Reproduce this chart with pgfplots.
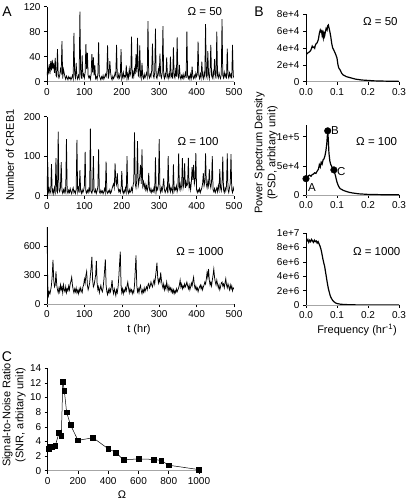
\documentclass[border=0pt]{standalone}
\usepackage{fontspec}
\setmainfont{Liberation Sans}
\usepackage{pgfplots}
\pgfplotsset{compat=1.18}
\pgfplotsset{
  myax/.style={
    scale only axis,
    axis x line*=bottom, axis y line*=left,
    axis line style={-, line width=0.6pt},
    x axis line style={gray!70},
    tick align=outside, major tick length=3pt,
    tick style={black, line width=0.5pt},
    ticklabel style={font=\fontsize{10}{12}\selectfont},
    /pgf/number format/assume math mode=true,
    /pgf/number format/1000 sep={},
    scaled ticks=false,
    minor tick num=0,
  },
  ts/.style={black, line width=0.75pt, no marks},
  psd/.style={black, line width=1.2pt, no marks},
}
\newcommand{\ann}{\fontsize{11.5}{13}\selectfont}
\newcommand{\lab}{\fontsize{11}{13}\selectfont}
\begin{document}
\begin{tikzpicture}
\useasboundingbox (0pt,0pt) rectangle (415pt,501pt);

% ---------------- Panel A top (Omega=50)
\begin{axis}[myax, at={(47pt,419.3pt)}, anchor=south west, width=187pt, height=75pt,
  xmin=0, xmax=500, ymin=0, ymax=120, ytick={0,40,80,120}, xtick={0,100,...,500}]
\addplot[ts] coordinates {
(0,10)(2,22)(4,15)(6,28)(8,12)(10,33)(12,18)(14,35)(16,20)(18,30)(20,14)(22,38)(24,10)(26,8)(28,52)(30,12)(32,6)(34,10)(36,20)(38,15)(40,65)(42,5)(44,20)(46,14)(48,8)(50,4)(52,9)(54,6)(56,3)(58,8)(60,5)(62,7)(64,3)(66,6)(68,10)(70,5)(72,78)(74,12)(76,6)(78,30)(80,8)(82,4)(84,10)(86,6)(88,112)(90,14)(92,5)(94,42)(96,8)(98,12)(100,6)(102,15)(104,60)(106,20)(108,46)(110,10)(112,6)(114,9)(116,4)(118,12)(120,44)(122,15)(124,39)(126,10)(128,26)(130,5)(132,8)(134,4)(136,12)(138,63)(140,10)(142,6)(144,3)(146,8)(148,5)(150,10)(152,4)(154,7)(156,12)(158,8)(160,14)(162,58)(164,5)(166,12)(168,33)(170,15)(172,6)(174,3)(176,9)(178,5)(180,8)(182,14)(184,10)(186,59)(188,8)(190,5)(192,12)(194,6)(196,10)(198,52)(200,4)(202,8)(204,15)(206,6)(208,10)(210,8)(212,26)(214,5)(216,12)(218,6)(220,20)(222,10)(224,14)(226,72)(228,5)(230,15)(232,8)(234,20)(236,12)(238,44)(240,15)(242,70)(244,10)(246,8)(248,58)(250,10)(252,5)(254,30)(256,8)(258,5)(260,12)(262,6)(264,10)(266,14)(268,8)(270,97)(272,10)(274,6)(276,12)(278,8)(280,18)(282,61)(284,10)(286,6)(288,14)(290,85)(292,8)(294,5)(296,12)(298,20)(300,8)(302,45)(304,10)(306,6)(308,14)(310,89)(312,10)(314,5)(316,12)(318,8)(320,39)(322,10)(324,5)(326,12)(328,8)(330,40)(332,8)(334,12)(336,5)(338,55)(340,10)(342,6)(344,18)(346,8)(348,71)(350,10)(352,6)(354,27)(356,8)(358,4)(360,10)(362,6)(364,12)(366,5)(368,9)(370,14)(372,6)(374,80)(376,10)(378,5)(380,9)(382,4)(384,12)(386,6)(388,24)(390,8)(392,5)(394,10)(396,6)(398,14)(400,8)(402,12)(404,64)(406,10)(408,5)(410,12)(412,6)(414,32)(416,10)(418,5)(420,14)(422,8)(424,92)(426,10)(428,6)(430,49)(432,12)(434,5)(436,18)(438,59)(440,10)(442,6)(444,15)(446,8)(448,36)(450,12)(452,5)(454,80)(456,10)(458,6)(460,14)(462,8)(464,5)(466,12)(468,100)(470,10)(472,6)(474,15)(476,8)(478,12)(480,5)(482,53)(484,10)(486,6)(488,14)(490,8)(492,12)(494,5)(496,59)(498,10)(500,6)
};
\node[font=\ann] at (axis cs:422,113) {Ω = 50};
\end{axis}

% ---------------- Panel A middle (Omega=100)
\begin{axis}[myax, at={(47pt,305.3pt)}, anchor=south west, width=187pt, height=79pt,
  xmin=0, xmax=500, ymin=0, ymax=200, ytick={0,100,200}, xtick={0,100,...,500}]
\addplot[ts] coordinates {
(0,15)(2,85)(4,10)(6,18)(8,6)(10,12)(12,80)(14,8)(16,15)(18,5)(20,20)(22,10)(24,95)(26,12)(28,8)(30,162)(32,15)(34,10)(36,20)(38,85)(40,12)(42,6)(44,15)(46,8)(48,18)(50,10)(52,143)(54,12)(56,6)(58,14)(60,8)(62,18)(64,10)(66,5)(68,14)(70,20)(72,8)(74,12)(76,6)(78,15)(80,141)(82,10)(84,20)(86,8)(88,65)(90,12)(92,6)(94,15)(96,8)(98,14)(100,25)(102,111)(104,10)(106,6)(108,14)(110,8)(112,18)(114,12)(116,170)(118,10)(120,6)(122,15)(124,100)(126,12)(128,8)(130,16)(132,6)(134,12)(136,22)(138,117)(140,10)(142,6)(144,14)(146,8)(148,12)(150,5)(152,10)(154,18)(156,8)(158,86)(160,10)(162,6)(164,12)(166,8)(168,15)(170,6)(172,10)(174,18)(176,25)(178,30)(180,20)(182,82)(184,35)(186,28)(188,57)(190,20)(192,10)(194,15)(196,8)(198,18)(200,62)(202,12)(204,6)(206,14)(208,8)(210,20)(212,10)(214,100)(216,12)(218,6)(220,15)(222,8)(224,12)(226,20)(228,10)(230,25)(232,35)(234,160)(236,30)(238,20)(240,40)(242,138)(244,25)(246,35)(248,50)(250,78)(252,30)(254,117)(256,25)(258,35)(260,20)(262,30)(264,15)(266,25)(268,12)(270,20)(272,58)(274,15)(276,10)(278,18)(280,8)(282,14)(284,10)(286,20)(288,12)(290,97)(292,10)(294,20)(296,15)(298,30)(300,143)(302,15)(304,8)(306,20)(308,12)(310,25)(312,44)(314,15)(316,8)(318,14)(320,20)(322,12)(324,100)(326,15)(328,25)(330,10)(332,20)(334,14)(336,8)(338,79)(340,12)(342,20)(344,15)(346,25)(348,10)(350,18)(352,107)(354,20)(356,30)(358,15)(360,25)(362,95)(364,20)(366,30)(368,82)(370,20)(372,35)(374,25)(376,30)(378,96)(380,20)(382,30)(384,15)(386,35)(388,72)(390,40)(392,78)(394,30)(396,40)(398,108)(400,15)(402,8)(404,15)(406,10)(408,18)(410,8)(412,14)(414,20)(416,30)(418,57)(420,25)(422,35)(424,107)(426,30)(428,20)(430,35)(432,25)(434,67)(436,30)(438,20)(440,35)(442,100)(444,15)(446,10)(448,18)(450,8)(452,14)(454,20)(456,10)(458,25)(460,15)(462,67)(464,20)(466,12)(468,30)(470,99)(472,15)(474,8)(476,20)(478,12)(480,25)(482,107)(484,15)(486,8)(488,20)(490,30)(492,105)(494,15)(496,8)(498,20)(500,12)
};
\node[font=\ann] at (axis cs:404,136) {Ω = 100};
\end{axis}

% ---------------- Panel A bottom (Omega=1000)
\begin{axis}[myax, at={(47pt,196.7pt)}, anchor=south west, width=187pt, height=77.3pt,
  xmin=0, xmax=500, ymin=0, ymax=800, ytick={0,300,600}, xtick={0,100,...,500}]
\addplot[ts] coordinates {
(0,850)(2,200)(4,90)(6,130)(8,110)(10,150)(12,200)(14,300)(16,460)(18,250)(20,180)(22,200)(24,340)(26,200)(28,150)(30,120)(32,170)(34,130)(36,200)(38,150)(40,180)(42,120)(44,200)(46,150)(48,130)(50,180)(52,120)(54,160)(56,140)(58,190)(60,150)(62,210)(64,240)(66,280)(68,200)(70,150)(72,120)(74,160)(76,130)(78,170)(80,120)(82,145)(84,110)(86,160)(88,130)(90,170)(92,140)(94,120)(96,180)(98,200)(100,260)(102,220)(104,300)(106,340)(108,200)(110,150)(112,180)(114,220)(116,300)(118,380)(120,490)(122,250)(124,180)(126,200)(128,250)(130,300)(132,450)(134,220)(136,150)(138,180)(140,120)(142,160)(144,195)(146,150)(148,130)(150,170)(152,250)(154,350)(156,465)(158,200)(160,130)(162,100)(164,150)(166,120)(168,160)(170,130)(172,180)(174,250)(176,150)(178,110)(180,160)(182,130)(184,90)(186,150)(188,120)(190,180)(192,280)(194,420)(196,545)(198,200)(200,120)(202,160)(204,110)(206,150)(208,130)(210,170)(212,140)(214,190)(216,230)(218,170)(220,120)(222,160)(224,130)(226,150)(228,110)(230,140)(232,120)(234,200)(236,350)(238,505)(240,200)(242,130)(244,160)(246,120)(248,170)(250,195)(252,140)(254,110)(256,150)(258,125)(260,170)(262,130)(264,160)(266,180)(268,150)(270,200)(272,215)(274,170)(276,190)(278,230)(280,200)(282,180)(284,220)(286,250)(288,210)(290,280)(292,350)(294,430)(296,280)(298,220)(300,260)(302,230)(304,330)(306,250)(308,200)(310,170)(312,210)(314,150)(316,190)(318,160)(320,230)(322,180)(324,140)(326,190)(328,150)(330,170)(332,130)(334,160)(336,120)(338,150)(340,110)(342,140)(344,120)(346,160)(348,130)(350,150)(352,170)(354,200)(356,250)(358,180)(360,210)(362,160)(364,190)(366,170)(368,210)(370,180)(372,200)(374,230)(376,190)(378,160)(380,200)(382,150)(384,180)(386,220)(388,190)(390,240)(392,280)(394,200)(396,160)(398,190)(400,150)(402,170)(404,130)(406,160)(408,180)(410,200)(412,160)(414,190)(416,150)(418,180)(420,200)(422,230)(424,210)(426,260)(428,330)(430,280)(432,365)(434,250)(436,200)(438,230)(440,190)(442,250)(444,300)(446,365)(448,280)(450,230)(452,200)(454,250)(456,210)(458,170)(460,200)(462,150)(464,180)(466,220)(468,230)(470,190)(472,210)(474,170)(476,220)(478,265)(480,200)(482,170)(484,210)(486,180)(488,150)(490,200)(492,160)(494,190)(496,140)(498,170)(500,160)
};
\node[font=\ann] at (axis cs:409,541) {Ω = 1000};
\end{axis}

% ---------------- Panel B top
\begin{axis}[myax, at={(306pt,419.3pt)}, anchor=south west, width=93pt, height=67.7pt,
  xmin=0, xmax=0.3, ymin=0, ymax=80000, ytick={0,20000,40000,60000,80000},
  yticklabels={0,2e+4,4e+4,6e+4,8e+4}, xtick={0,0.1,0.2,0.3}, xticklabels={0.0,0.1,0.2,0.3}]
\addplot[psd] coordinates {
(0,32000)(0.003,33000)(0.006,34000)(0.01,35000)(0.013,36000)(0.016,37500)(0.02,42000)(0.022,40500)(0.025,41000)(0.028,39500)(0.03,43000)(0.033,45000)(0.036,46000)(0.04,50000)(0.043,57000)(0.046,61000)(0.048,59000)(0.05,60000)(0.052,55000)(0.054,58000)(0.056,52000)(0.058,57000)(0.06,54000)(0.062,58000)(0.065,63000)(0.068,61000)(0.07,66000)(0.072,67000)(0.074,64000)(0.077,59000)(0.08,53000)(0.083,45000)(0.086,40000)(0.09,37000)(0.095,33000)(0.1,28000)(0.103,20000)(0.106,16000)(0.11,14000)(0.115,10000)(0.12,8000)(0.13,6000)(0.14,5000)(0.15,4000)(0.16,3000)(0.18,2000)(0.2,1500)(0.22,1000)(0.25,700)(0.28,500)(0.3,400)
};
\node[font=\ann] at (axis cs:0.24,71000) {Ω = 50};
\end{axis}

% ---------------- Panel B middle
\begin{axis}[myax, at={(306pt,306pt)}, anchor=south west, width=93pt, height=70pt,
  xmin=0, xmax=0.3, ymin=0, ymax=120000, ytick={0,50000,100000},
  yticklabels={0,5e+4,1e+5}, xtick={0,0.1,0.2,0.3}, xticklabels={0.0,0.1,0.2,0.3}, clip=false]
\addplot[psd] coordinates {
(0,28000)(0.004,30000)(0.008,33000)(0.012,34000)(0.016,32000)(0.02,35000)(0.024,36000)(0.028,38000)(0.032,37000)(0.036,41000)(0.04,44000)(0.043,52000)(0.046,48000)(0.049,56000)(0.052,53000)(0.055,60000)(0.058,62000)(0.061,67000)(0.064,75000)(0.067,88000)(0.07,110000)(0.072,95000)(0.074,72000)(0.077,58000)(0.08,52000)(0.085,47000)(0.09,43000)(0.095,33000)(0.1,22000)(0.105,15000)(0.11,11000)(0.12,8000)(0.13,6000)(0.14,4500)(0.15,3500)(0.17,2000)(0.2,1000)(0.25,500)(0.3,300)
};
\addplot[only marks, mark=*, mark size=3.3pt, black] coordinates {(0,28000)(0.07,110000)(0.09,43000)};
\node[font=\ann, anchor=north west, inner sep=0pt] at (axis cs:0.006,20000) {A};
\node[font=\ann, anchor=west, inner sep=0pt] at (axis cs:0.08,110000) {B};
\node[font=\ann, anchor=west, inner sep=0pt] at (axis cs:0.1,41000) {C};
\node[font=\ann] at (axis cs:0.228,91000) {Ω = 100};
\end{axis}

% ---------------- Panel B bottom
\begin{axis}[myax, at={(306pt,196pt)}, anchor=south west, width=93pt, height=72pt,
  xmin=0, xmax=0.3, ymin=0, ymax=10000000, ytick={0,2000000,4000000,6000000,8000000,10000000},
  yticklabels={0,2e+6,4e+6,6e+6,8e+6,1e+7}, xtick={0,0.1,0.2,0.3}, xticklabels={0.0,0.1,0.2,0.3}]
\addplot[psd] coordinates {
(0,9200000)(0.003,8900000)(0.006,9100000)(0.009,8700000)(0.012,9000000)(0.015,8800000)(0.018,9100000)(0.021,8900000)(0.024,8700000)(0.027,9000000)(0.03,8800000)(0.033,8900000)(0.036,8600000)(0.039,8800000)(0.042,8500000)(0.045,8200000)(0.048,7800000)(0.051,7200000)(0.054,6500000)(0.057,5900000)(0.06,5400000)(0.063,4600000)(0.066,3800000)(0.069,3000000)(0.072,2300000)(0.075,1800000)(0.078,1300000)(0.081,1000000)(0.085,700000)(0.09,450000)(0.095,300000)(0.1,200000)(0.11,120000)(0.12,80000)(0.14,40000)(0.16,20000)(0.2,10000)(0.3,0)
};
\node[font=\ann] at (axis cs:0.228,7360000) {Ω = 1000};
\end{axis}

% ---------------- Panel C
\begin{axis}[myax, at={(47.7pt,30.3pt)}, anchor=south west, width=151.3pt, height=102.4pt,
  xmin=0, xmax=1000, ymin=0, ymax=14, ytick={0,2,...,14}, xtick={0,200,...,1000}]
\addplot[black, line width=0.5pt, mark=square*, mark size=2.4pt] coordinates {
(5,3.0)(10,3.3)(25,3.3)(40,3.35)(50,3.4)(75,5.2)(90,4.75)(100,12.2)(110,10.9)(125,8.0)(150,6.3)(200,4.15)(300,4.5)(400,3.0)(450,2.5)(500,1.5)(600,1.6)(700,1.55)(750,1.4)(800,0.75)(1000,0.15)
};
\end{axis}

% ---------------- labels
\node[font=\fontsize{14}{16}\selectfont] at (7pt,489pt) {A};
\node[font=\fontsize{14}{16}\selectfont] at (259pt,489pt) {B};
\node[font=\fontsize{14}{16}\selectfont] at (7pt,144pt) {C};
\node[font=\lab, rotate=90] at (10pt,346pt) {Number of CREB1};
\node[font=\lab] at (139pt,171pt) {t (hr)};
\node[font=\lab, rotate=90, align=center] at (266pt,348pt) {Power Spectrum Density\\(PSD, arbitary unit)};
\node[font=\lab] at (357pt,171pt) {Frequency (hr\textsuperscript{-1})};
\node[font=\lab, rotate=90, align=center] at (14pt,86pt) {Signal-to-Noise Ratio\\(SNR, arbitary unit)};
\node[font=\lab] at (122pt,6pt) {Ω};
\end{tikzpicture}
\end{document}
